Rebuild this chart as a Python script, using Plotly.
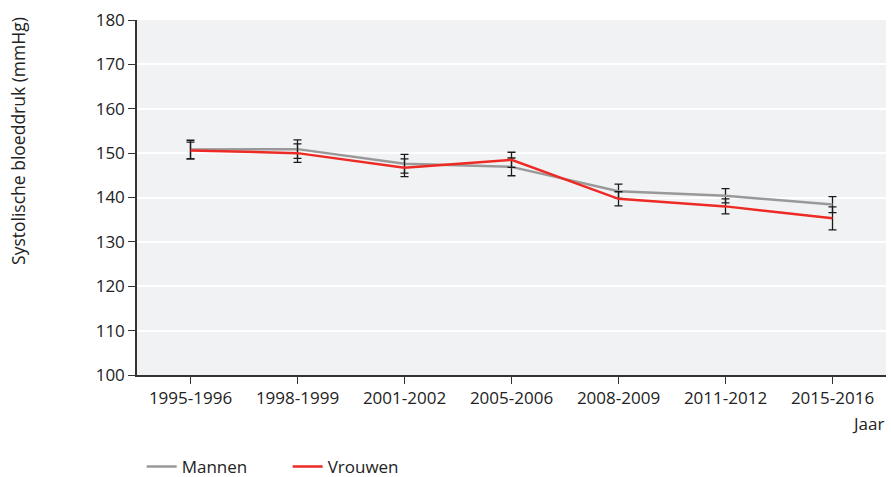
import plotly.graph_objects as go

periods = ["1995-1996", "1998-1999", "2001-2002", "2005-2006", "2008-2009", "2011-2012", "2015-2016"]
mannen = [150.8, 150.9, 147.6, 146.9, 141.4, 140.4, 138.4]
mannen_err = [2.1, 2.1, 2.1, 2.0, 1.6, 1.6, 1.8]
vrouwen = [150.6, 150.0, 146.7, 148.5, 139.7, 138.0, 135.3]
vrouwen_err = [1.9, 2.1, 2.0, 1.7, 1.6, 1.7, 2.6]

FONT = "Open Sans, Noto Sans, sans-serif"

fig = go.Figure()
fig.add_trace(go.Scatter(
    x=periods, y=mannen, name="Mannen", mode="lines",
    line=dict(color="#999999", width=2.5),
    error_y=dict(type="data", array=mannen_err, visible=True, color="#1a1a1a", thickness=1.3, width=4),
))
fig.add_trace(go.Scatter(
    x=periods, y=vrouwen, name="Vrouwen", mode="lines",
    line=dict(color="#ee2a24", width=2.5),
    error_y=dict(type="data", array=vrouwen_err, visible=True, color="#1a1a1a", thickness=1.3, width=4),
))

fig.update_layout(
    width=891, height=477,
    margin=dict(l=137, r=5, t=20, b=102, autoexpand=False),
    paper_bgcolor="white", plot_bgcolor="#f1f2f4",
    font=dict(family=FONT, size=17, color="#222222"),
    showlegend=True,
    legend=dict(orientation="h", xref="container", yref="container",
                x=0.159, xanchor="left", y=0.021, yanchor="middle",
                font=dict(size=17), tracegroupgap=0, entrywidth=101),
    xaxis=dict(
        type="category", range=[-0.5, 6.5], showgrid=False, automargin=False,
        showline=True, linecolor="#333333", linewidth=1.5,
        ticks="outside", ticklen=7, tickcolor="#333333", tickwidth=1,
        tickfont=dict(size=17), ticklabelstandoff=0,
    ),
    yaxis=dict(
        range=[100, 180], dtick=10, showgrid=True, gridcolor="white", gridwidth=1.5,
        showline=True, linecolor="#333333", linewidth=1.5, zeroline=False, automargin=False,
        ticks="outside", ticklen=7, tickcolor="#333333", tickwidth=1,
        tickfont=dict(size=17), ticklabelstandoff=0,
    ),
    annotations=[
        dict(text="Systolische bloeddruk (mmHg)", textangle=-90, xref="paper", yref="paper",
             x=-0.159, y=1.014, xanchor="center", yanchor="top", showarrow=False,
             font=dict(size=17.5)),
        dict(text="Jaar", xref="paper", yref="paper", x=1.0, y=-0.0975, xanchor="right",
             yanchor="top", showarrow=False, font=dict(size=17)),
    ],
)

fig.write_html("out.html", config={"displayModeBar": False},
               post_script="document.body.style.margin='0';")
